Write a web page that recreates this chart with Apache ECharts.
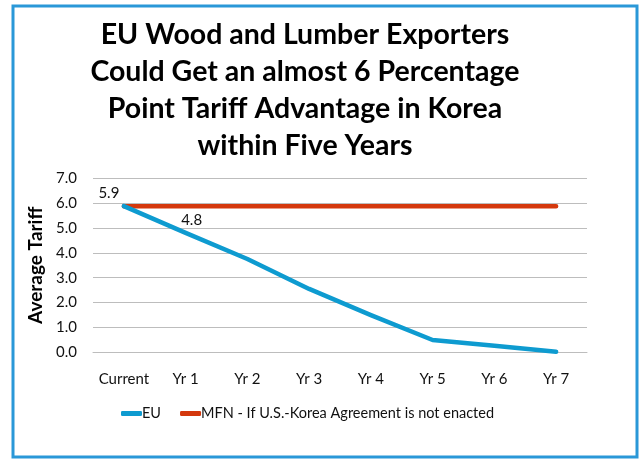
<!DOCTYPE html>
<html style="height: 100%">
<head>
    <meta charset="UTF-8" />
    <title>EU Wood and Lumber Exporters</title>
    <script src="https://cdn.jsdelivr.net/npm/echarts@6.0.0/dist/echarts.min.js"></script>
</head>
<body style="height: 100%; margin: 0; background: #fff">
    <div id="main" style="width: 640px; height: 459px"></div>
    <script type="text/javascript">
        var years = ['Current', 'Yr 1', 'Yr 2', 'Yr 3', 'Yr 4', 'Yr 5', 'Yr 6', 'Yr 7'];
        var euTariff = [5.87, 4.8, 3.75, 2.55, 1.5, 0.5, 0.27, 0.03];
        var mfnTariff = [5.87, 5.87, 5.87, 5.87, 5.87, 5.87, 5.87, 5.87];
        // only the first two points carry a label in the original
        var euLabelOffsets = [[-15, 0], [6, 0]];

        var chartDom = document.getElementById('main');
        var myChart = echarts.init(chartDom);
        var font = 'Lato, "Open Sans", sans-serif';

        var euData = euTariff.map(function (v, i) {
            var item = { value: v };
            if (i < euLabelOffsets.length) {
                item.label = {
                    show: true,
                    position: 'top',
                    offset: euLabelOffsets[i],
                    formatter: function (p) { return p.value.toFixed(1); },
                    fontFamily: font,
                    fontSize: 15,
                    color: '#111'
                };
            }
            return item;
        });

        var option = {
            animation: false,
            graphic: [{
                type: 'rect',
                shape: { x: 13, y: 6, width: 624, height: 451 },
                style: { fill: 'none', stroke: '#2a98d8', lineWidth: 3 },
                silent: true
            }],
            title: {
                text: 'EU Wood and Lumber Exporters\nCould Get an almost 6 Percentage\nPoint Tariff Advantage in Korea\nwithin Five Years',
                left: 300,
                textAlign: 'center',
                top: 11,
                textStyle: {
                    fontFamily: font,
                    fontSize: 28.5,
                    fontWeight: 'bold',
                    lineHeight: 37,
                    color: '#000'
                }
            },
            legend: {
                left: 116,
                top: 401,
                itemWidth: 21,
                itemHeight: 5,
                itemGap: 19,
                icon: 'roundRect',
                selectedMode: false,
                textStyle: { fontFamily: font, fontSize: 14.5, color: '#111', padding: [0, 0, 0, -5] },
                data: ['EU', 'MFN - If U.S.-Korea Agreement is not enacted']
            },
            grid: { left: 93, right: 53, top: 178, bottom: 106.5 },
            xAxis: {
                type: 'category',
                data: years,
                boundaryGap: true,
                axisLine: { show: true, lineStyle: { color: '#bdbdbd', width: 1 } },
                axisTick: { show: false },
                axisLabel: { interval: 0, fontFamily: font, fontSize: 15, color: '#111', margin: 19 }
            },
            yAxis: {
                type: 'value',
                min: 0,
                max: 7,
                interval: 1,
                name: 'Average Tariff',
                nameLocation: 'middle',
                nameGap: 45,
                nameTextStyle: { fontFamily: font, fontSize: 19, fontWeight: 'bold', color: '#000' },
                axisLine: { show: false },
                axisTick: { show: false },
                splitLine: { lineStyle: { color: '#bdbdbd', width: 1 } },
                axisLabel: {
                    fontFamily: font, fontSize: 15, color: '#111', margin: 16,
                    formatter: function (v) { return v.toFixed(1); }
                }
            },
            series: [{
                name: 'EU',
                type: 'line',
                data: euData,
                showSymbol: true,
                symbol: 'circle',
                symbolSize: 0.1,
                z: 3,
                itemStyle: { color: '#0e9bd0' },
                lineStyle: { color: '#0e9bd0', width: 4.5, cap: 'round', join: 'round' }
            }, {
                name: 'MFN - If U.S.-Korea Agreement is not enacted',
                type: 'line',
                data: mfnTariff,
                showSymbol: false,
                symbol: 'none',
                z: 2,
                itemStyle: { color: '#d4380d' },
                lineStyle: { color: '#d4380d', width: 4.5, cap: 'round' }
            }]
        };

        myChart.setOption(option);
    </script>
</body>
</html>
